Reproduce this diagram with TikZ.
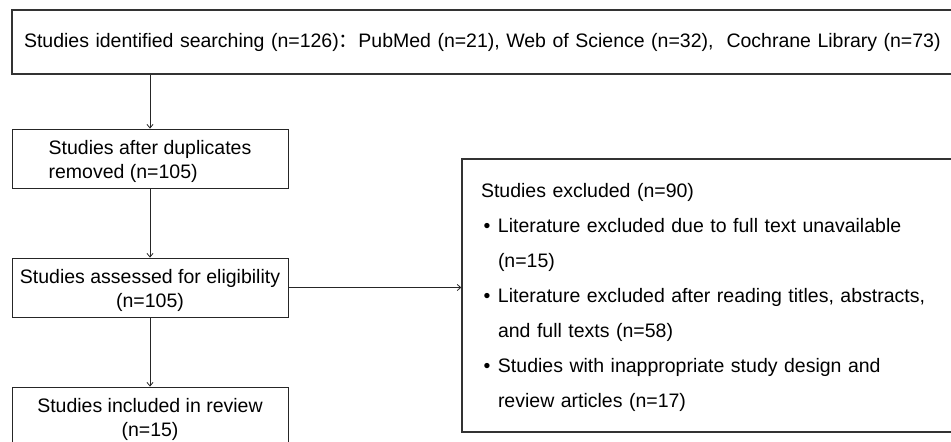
\documentclass[tikz,border=0pt]{standalone}
\usepackage{fontspec}
\setmainfont{Liberation Sans}
\newfontfamily\cjk{Noto Sans CJK SC}
\usetikzlibrary{arrows.meta}
\newcommand{\topstrut}[1]{\rule{0pt}{#1}}
\begin{document}
\begin{tikzpicture}[x=1pt,y=-1pt,
  bx/.style={draw=black!85,line width=0.9pt,rectangle,inner sep=0pt,
    font=\fontsize{19.5}{24}\selectfont},
  bigbx/.style={draw=black!80,line width=1.3pt,rectangle,inner sep=0pt},
  arr/.style={draw=black!85,line width=0.8pt,-{Straight Barb[length=3.5pt,width=6pt]}}]
\useasboundingbox (0,0) rectangle (951,442);
\fill[white] (0,0) rectangle (951,442);
\node[bigbx,minimum width=946pt,minimum height=64pt,text width=922pt,inner xsep=12pt,align=left,
  font=\fontsize{19.5}{24}\selectfont] (top) at (485,42)
  {Studies identified searching (n=126){\cjk ：}PubMed (n=21), Web of Science (n=32),\ \ Cochrane Library (n=73)};
\node[bx,minimum width=276pt,minimum height=59pt,align=left] (dup) at (150,158.5)
  {\topstrut{20pt}Studies after duplicates\\removed (n=105)};
\node[bx,minimum width=276pt,minimum height=59pt,align=center] (elig) at (150,287.5)
  {\topstrut{21pt}Studies assessed for eligibility\\(n=105)};
\node[bx,minimum width=276pt,minimum height=62pt,align=center] (incl) at (150,418)
  {\topstrut{18pt}Studies included in review\\(n=15)};
\node[bigbx,minimum width=500pt,minimum height=273pt,text width=462pt,inner xsep=19pt,align=left,
  font=\fontsize{19.5}{35}\selectfont] (excl) at (712,295.5)
  {\topstrut{19pt}Studies excluded (n=90)\\
   \hspace*{2.5pt}\makebox[14.5pt][l]{•}Literature excluded due to full text unavailable\\
   \hspace*{17pt}(n=15)\\
   \hspace*{2.5pt}\makebox[14.5pt][l]{•}Literature excluded after reading titles, abstracts,\\
   \hspace*{17pt}and full texts (n=58)\\
   \hspace*{2.5pt}\makebox[14.5pt][l]{•}Studies with inappropriate study design and\\
   \hspace*{17pt}review articles (n=17)};
\draw[arr] (dup.north |- top.south) -- (dup.north);
\draw[arr] (dup.south) -- (elig.north);
\draw[arr] (elig.south) -- (incl.north);
\draw[arr] (elig.east) -- (elig.east -| excl.west);
\end{tikzpicture}
\end{document}
